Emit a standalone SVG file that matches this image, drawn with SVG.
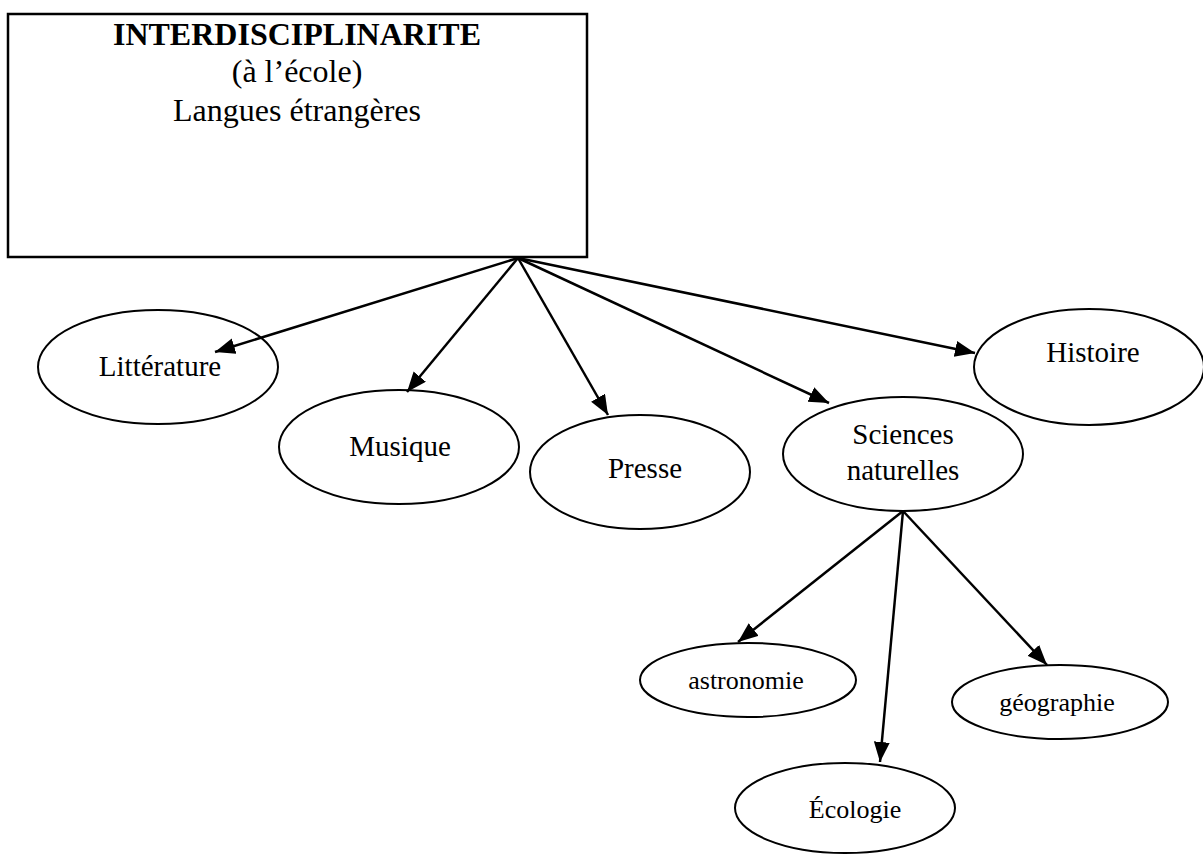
<svg xmlns="http://www.w3.org/2000/svg" width="1203" height="854" viewBox="0 0 1203 854">
<defs>
<marker id="ah" markerUnits="userSpaceOnUse" markerWidth="22" markerHeight="18" refX="20" refY="8" orient="auto">
<path d="M0,0 L20,8 L0,16 z" fill="#000"/>
</marker>
<style>
.t{font-family:"Liberation Serif","Times New Roman",serif;fill:#000;text-anchor:middle}
.nd{fill:#fff;stroke:#000;stroke-width:2}
.ed{stroke:#000;stroke-width:2.5;fill:none;marker-end:url(#ah)}
</style>
</defs>
<rect width="1203" height="854" fill="#fff"/>
<g id="root">
<rect x="8" y="14" width="579" height="243" fill="#fff" stroke="#000" stroke-width="2.5"/>
<text class="t" x="297" y="45" font-size="32" font-weight="bold">INTERDISCIPLINARITE</text>
<text class="t" x="297" y="82" font-size="32">(à l’école)</text>
<text class="t" x="297" y="121" font-size="32">Langues étrangères</text>
</g>
<g id="litterature">
<ellipse class="nd" cx="158" cy="367" rx="120" ry="57"/>
<text class="t" x="160" y="376" font-size="29">Littérature</text>
</g>
<g id="musique">
<ellipse class="nd" cx="399" cy="447" rx="120" ry="57"/>
<text class="t" x="400" y="456" font-size="29">Musique</text>
</g>
<g id="presse">
<ellipse class="nd" cx="640" cy="472" rx="110" ry="57"/>
<text class="t" x="645" y="478" font-size="29">Presse</text>
</g>
<g id="sciences">
<ellipse class="nd" cx="903" cy="454" rx="120" ry="57"/>
<text class="t" x="903" y="444" font-size="29">Sciences</text>
<text class="t" x="903" y="480" font-size="29">naturelles</text>
</g>
<g id="histoire">
<ellipse class="nd" cx="1089" cy="367" rx="115" ry="58"/>
<text class="t" x="1093" y="362" font-size="29">Histoire</text>
</g>
<g id="astronomie">
<ellipse class="nd" cx="748" cy="680" rx="108" ry="37"/>
<text class="t" x="746" y="689" font-size="26">astronomie</text>
</g>
<g id="geographie">
<ellipse class="nd" cx="1060" cy="702" rx="108" ry="37"/>
<text class="t" x="1057" y="711" font-size="26">géographie</text>
</g>
<g id="ecologie">
<ellipse class="nd" cx="845" cy="808" rx="110" ry="45"/>
<text class="t" x="855" y="818" font-size="26">Écologie</text>
</g>
<g id="connectors">
<line class="ed" x1="518" y1="258" x2="215" y2="352"/>
<line class="ed" x1="518" y1="258" x2="407" y2="392"/>
<line class="ed" x1="518" y1="258" x2="608" y2="415"/>
<line class="ed" x1="518" y1="258" x2="829" y2="403"/>
<line class="ed" x1="518" y1="258" x2="975" y2="353"/>
<line class="ed" x1="903" y1="511" x2="738" y2="642"/>
<line class="ed" x1="903" y1="511" x2="880" y2="762"/>
<line class="ed" x1="903" y1="511" x2="1047" y2="665"/>
</g>
</svg>
